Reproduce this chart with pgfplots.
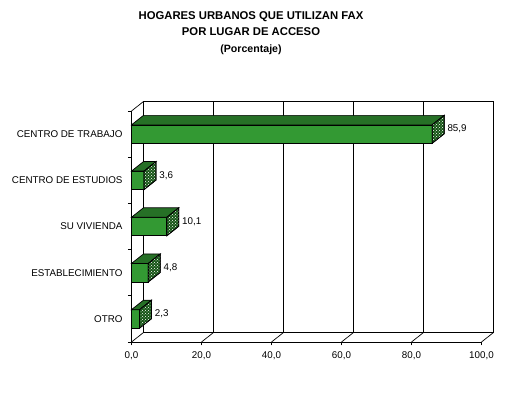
\documentclass[border=0pt]{standalone}
\usepackage{fontspec}
\setmainfont{Liberation Sans}
\usepackage{pgfplots}
\pgfplotsset{compat=1.18}
\usepackage{pgfplotstable}
\usetikzlibrary{patterns}
\definecolor{frontgreen}{RGB}{51,153,51}
\definecolor{topgreen}{RGB}{38,112,38}
\definecolor{sidegreen}{RGB}{22,85,22}

\pgfplotstableread{
y v
0 2.3
1 4.8
2 10.1
3 3.6
4 85.9
}\datatable

% depth offset in data units of the front axis (12pt / 3.5pt, 9.5pt / 46.2pt)
\def\dx{3.4286}
\def\dy{0.2056}
\def\hb{0.2}

\begin{document}
\begin{tikzpicture}
\path[use as bounding box] (-131.5pt,-57pt) rectangle (377.5pt,342pt);
\node[font=\fontsize{11.3}{12}\selectfont\bfseries, anchor=base] at (119.5pt,322pt) {HOGARES URBANOS QUE UTILIZAN FAX};
\node[font=\fontsize{11.3}{12}\selectfont\bfseries, anchor=base] at (119.5pt,306pt) {POR LUGAR DE ACCESO};
\node[font=\fontsize{10.6}{11}\selectfont\bfseries, anchor=base] at (119.5pt,289pt) {(Porcentaje)};
% back wall
\begin{axis}[at={(12pt,9.5pt)}, anchor=south west, scale only axis, width=350pt, height=231pt,
  xmin=0, xmax=100, ymin=0, ymax=1, xtick={20,40,60,80}, ytick=\empty, xticklabels={},
  major tick length=0pt, xmajorgrids, grid style={black, line width=0.7pt},
  axis line style={line width=0.7pt}]
\end{axis}
% front plane
\begin{axis}[at={(0pt,0pt)}, anchor=south west, scale only axis, width=350pt, height=231pt,
  xmin=0, xmax=100, ymin=-0.5, ymax=4.5, clip=false,
  axis lines*=left, axis line style={line width=0.7pt},
  xtick={0,20,...,100}, tick align=outside, major tick length=3.5pt,
  tick style={black, line width=0.7pt},
  ytick={0,...,4},
  yticklabels={OTRO, ESTABLECIMIENTO, SU VIVIENDA, CENTRO DE ESTUDIOS, CENTRO DE TRABAJO},
  ytick style={draw=none},
  extra y ticks={-0.5,0.5,1.5,2.5,3.5,4.5}, extra y tick labels={},
  extra y tick style={ytick style={draw=black}},
  yticklabel style={font=\fontsize{9.8}{11}\selectfont, xshift=-2pt},
  xticklabel style={font=\fontsize{9.8}{11}\selectfont, yshift=-2.5pt},
  scaled x ticks=false,
  /pgf/number format/fixed, /pgf/number format/fixed zerofill,
  /pgf/number format/precision=1, /pgf/number format/use comma,
  /pgf/number format/assume math mode=true,
]
\pgfplotsinvokeforeach{0,20,40,60,80,100}{%
  \draw[line width=0.7pt] (axis cs:#1,-0.5) -- ([shift={(12pt,9.5pt)}]axis cs:#1,-0.5);
}
\draw[line width=0.7pt] (axis cs:0,4.5) -- ([shift={(12pt,9.5pt)}]axis cs:0,4.5);

\addplot[xbar, bar width=18.5pt, fill=frontgreen, draw=black, line width=0.7pt,
  nodes near coords,
  nodes near coords style={anchor=west, inner sep=0pt, xshift=15pt, yshift=5pt,
    font=\fontsize{9.8}{11}\selectfont, black}]
  table[x=v, y=y]{\datatable};

\pgfplotsinvokeforeach{0,1,2,3,4}{%
  \pgfplotstablegetelem{#1}{v}\of\datatable
  \pgfmathsetmacro\vv{\pgfplotsretval}%
  \pgfmathsetmacro\vd{\vv+\dx}%
  \pgfmathsetmacro\yt{#1+\hb}%
  \pgfmathsetmacro\ytd{#1+\hb+\dy}%
  \pgfmathsetmacro\yb{#1-\hb}%
  \pgfmathsetmacro\ybd{#1-\hb+\dy}%
  \edef\temp{%
    \noexpand\addplot[fill=topgreen, draw=black, line width=0.7pt]
      coordinates {(0,\yt) (\vv,\yt) (\vd,\ytd) (\dx,\ytd)} -- cycle;
    \noexpand\addplot[preaction={fill=sidegreen}, pattern=crosshatch dots,
      pattern color=white, draw=black, line width=0.7pt]
      coordinates {(\vv,\yb) (\vv,\yt) (\vd,\ytd) (\vd,\ybd)} -- cycle;
  }%
  \temp
}
\end{axis}
\end{tikzpicture}
\end{document}
